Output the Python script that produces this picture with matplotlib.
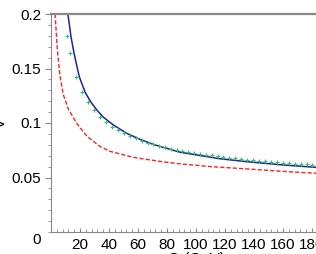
import matplotlib
matplotlib.use("Agg")
import matplotlib.pyplot as plt
from matplotlib.ticker import MultipleLocator

plt.rcParams['font.family'] = ['Liberation Sans', 'DejaVu Sans']

# data
blue_q = [11.6, 12.4, 13.8, 15.9, 18.2, 19.5, 23.6, 27.6, 31.7, 35.8, 43.0, 52.2, 61.4, 70.6,
          89.0, 116.6, 135.0, 160.0, 184.0]
blue_v = [0.200, 0.193, 0.179, 0.164, 0.150, 0.1425, 0.128, 0.119, 0.1118, 0.1057, 0.0982,
          0.0905, 0.0850, 0.0803, 0.0732, 0.0672, 0.0645, 0.0615, 0.0592]

red_q = [2.8, 4.4, 6.2, 8.5, 11.9, 17.7, 25.0, 33.8, 40.7, 56.8, 75.0, 89.0, 110.0, 136.0, 160.0, 184.0]
red_v = [0.200, 0.167, 0.143, 0.126, 0.113, 0.0997, 0.0875, 0.0785, 0.0740, 0.0685, 0.0648,
         0.0625, 0.0600, 0.0578, 0.0556, 0.0538]

green_q = [11.3, 13.3, 17.5, 21.6, 25.6, 29.7, 33.8, 37.8, 42.2, 46.4, 50.3, 54.5, 58.4, 62.5,
           66.7, 70.6, 74.7, 78.6, 82.8, 86.7, 90.6, 94.5, 98.6, 102.8, 106.7, 110.8, 115.0,
           118.8, 123.0, 127.1, 131.2, 135.3, 139.3, 143.4, 147.6, 151.7, 155.6, 159.8, 163.9,
           168.0, 172.2, 176.3, 180.2]
green_v = [0.180, 0.164, 0.142, 0.128, 0.119, 0.112, 0.1055, 0.1005, 0.0966, 0.0936, 0.0905,
           0.0881, 0.0859, 0.0838, 0.0820, 0.0804, 0.0789, 0.0777, 0.0764, 0.0752, 0.0744,
           0.0734, 0.0725, 0.0718, 0.0710, 0.0703, 0.0694, 0.0688, 0.0682, 0.0676, 0.0670,
           0.0665, 0.0661, 0.0654, 0.0648, 0.0642, 0.0639, 0.0633, 0.0630, 0.0627, 0.0624,
           0.0621, 0.0619]

x_ticks = [20, 40, 60, 80, 100, 120, 140, 160, 180, 200]
y_ticks = [0.05, 0.1, 0.15, 0.2]
y_tick_labels = ['0.05', '0.1', '0.15', '0.2']

fig = plt.figure(figsize=(3.16, 2.54), dpi=100)
ax = fig.add_axes([51/316, 22/254, 290/316, 218/254])

ax.plot(red_q, red_v, color='#ff2020', lw=1.0, ls=(0, (3, 1.5)))
ax.plot(blue_q, blue_v, color='#22229a', lw=1.1)
ax.plot(green_q, green_v, ls='none', marker='+', ms=3, mew=0.8, color='#33c46a')

ax.set_xlim(0, 200)
ax.set_ylim(0, 0.2)

ax.set_xticks(x_ticks)
ax.set_yticks(y_ticks)
ax.set_yticklabels(y_tick_labels)
ax.xaxis.set_minor_locator(MultipleLocator(4))
ax.yaxis.set_minor_locator(MultipleLocator(0.01))

gray = '#888888'
for s in ['left', 'bottom', 'top']:
    ax.spines[s].set_color(gray)
ax.spines['top'].set_linewidth(1.6)
ax.spines['right'].set_visible(False)

ax.tick_params(axis='y', which='major', direction='out', length=4, color=gray, labelsize=11, pad=3)
ax.tick_params(axis='y', which='minor', direction='out', length=2.5, color=gray)
ax.tick_params(axis='x', which='major', direction='in', length=3, color=gray, labelsize=11, pad=4)
ax.tick_params(axis='x', which='minor', direction='in', length=2, color=gray)

ax.text(-0.035, -0.035, '0', transform=ax.transAxes, ha='right', va='center', fontsize=11)

ax.set_xlabel('Q (GeV)', fontsize=11, labelpad=0)
ax.set_ylabel('v', fontsize=11, labelpad=14)
ax.yaxis.set_label_coords(-0.15, 0.5)

fig.savefig('out.png', dpi=100)
